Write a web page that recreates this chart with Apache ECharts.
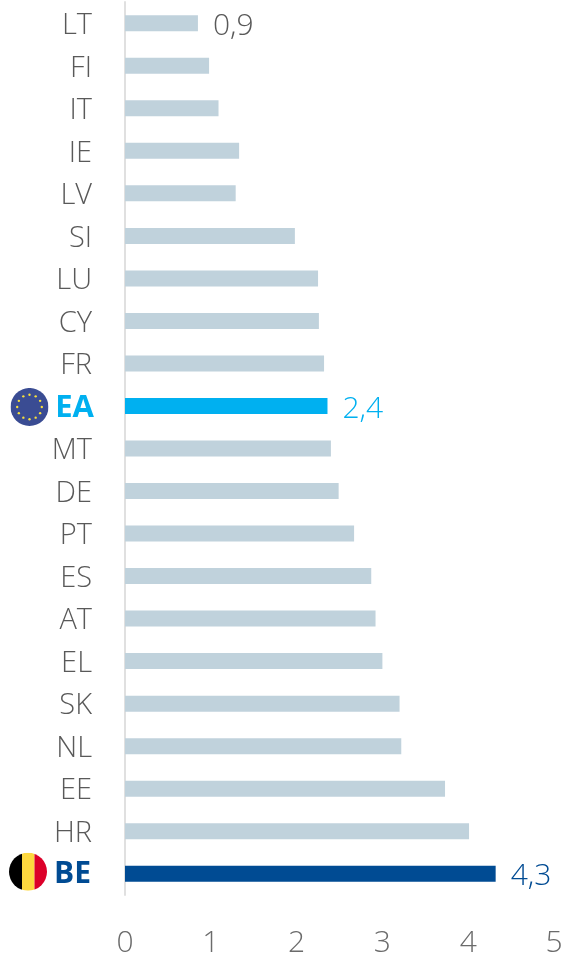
<!DOCTYPE html>
<html><head><meta charset="utf-8">
<style>html,body{margin:0;padding:0;background:#fff}#c{width:564px;height:960px}</style>
<script src="https://cdn.jsdelivr.net/npm/echarts@6/dist/echarts.min.js"></script>
</head><body><div id="c"></div>
<script>
const categories = ['LT','FI','IT','IE','LV','SI','LU','CY','FR','EA','MT','DE','PT','ES','AT','EL','SK','NL','EE','HR','BE'];
const values = [0.85,0.98,1.09,1.33,1.29,1.98,2.25,2.26,2.32,2.36,2.40,2.49,2.67,2.87,2.92,3.00,3.20,3.22,3.73,4.01,4.32];
const shownLabels = {LT:'0,9', EA:'2,4', BE:'4,3'};
const xTicks = [0,1,2,3,4,5];

const FONT = '"Open Sans", sans-serif';
const beFlag = 'data:image/svg+xml;utf8,' + encodeURIComponent(
 '<svg xmlns="http://www.w3.org/2000/svg" width="38" height="38"><defs><clipPath id="a"><circle cx="19" cy="19" r="19"/></clipPath></defs><g clip-path="url(#a)"><rect width="13" height="38" fill="#000"/><rect x="13" width="12.5" height="38" fill="#fdd83f"/><rect x="25.5" width="12.5" height="38" fill="#dc0029"/></g></svg>');
const stars = [];
for (let i = 0; i < 12; i++) {
  const a = i * Math.PI / 6;
  stars.push('<circle cx="' + (19 + 12.3 * Math.sin(a)).toFixed(2) + '" cy="' + (19 - 12.3 * Math.cos(a)).toFixed(2) + '" r="1.2" fill="#f7e03c"/>');
}
const euFlag = 'data:image/svg+xml;utf8,' + encodeURIComponent(
 '<svg xmlns="http://www.w3.org/2000/svg" width="38" height="38"><circle cx="19" cy="19" r="19" fill="#3a4c93"/>' + stars.join('') + '</svg>');

const colorOf = c => c === 'BE' ? '#004b93' : c === 'EA' ? '#00b0f0' : '#c0d2dc';
const labelColorOf = c => c === 'BE' ? '#004b93' : c === 'EA' ? '#00b0f0' : '#595959';

const chart = echarts.init(document.getElementById('c'), null, {renderer:'canvas'});
chart.setOption({
  animation:false,
  backgroundColor:'#fff',
  grid:{left:125,right:10,top:2,bottom:65,containLabel:false,outerBoundsMode:'none'},
  xAxis:{type:'value',min:0,max:5,interval:1,
    axisLine:{show:false},axisTick:{show:false},splitLine:{show:false},
    axisLabel:{margin:33,color:'#6b6b6b',fontFamily:FONT,fontWeight:300,fontSize:30,
      formatter:v=>xTicks.includes(v)?String(v):''}},
  yAxis:{type:'category',data:categories,inverse:true,
    axisLine:{show:true,lineStyle:{color:'#e0e0e0',width:2}},
    axisTick:{show:false},splitLine:{show:false},
    axisLabel:{margin:31,fontFamily:FONT,fontWeight:300,fontSize:29,color:'#595959',
      formatter:v=>v==='BE'?'{be|BE}':v==='EA'?'{ea|EA}':'{p|'+v+'}',
      rich:{
        p:{fontFamily:FONT,fontWeight:300,fontSize:29,color:'#595959',padding:[5,2,0,0]},
        ea:{fontFamily:FONT,fontWeight:700,fontSize:31,color:'#00b0f0',padding:[5,0,0,0]},
        be:{fontFamily:FONT,fontWeight:700,fontSize:30,color:'#004b93',padding:[1,3,0,0]}
      }}},
  series:[{type:'bar',barWidth:16,silent:true,
    data:categories.map((c,i)=>({
      value:values[i],
      itemStyle:{color:colorOf(c)},
      label:{show:c in shownLabels,position:'right',distance:15,offset:[0,3],formatter:shownLabels[c]||'',
        fontFamily:FONT,fontWeight:300,fontSize:30,color:labelColorOf(c)}
    }))}]
});
const flagAt = (name,img,x,dy) => {
  const y = chart.convertToPixel({yAxisIndex:0}, name);
  return {type:'image',style:{image:img,x:x,y:y+dy-19,width:38,height:38},silent:true};
};
chart.setOption({graphic:[flagAt('EA',euFlag,10.5,1),flagAt('BE',beFlag,9,-2)]});
</script></body></html>
